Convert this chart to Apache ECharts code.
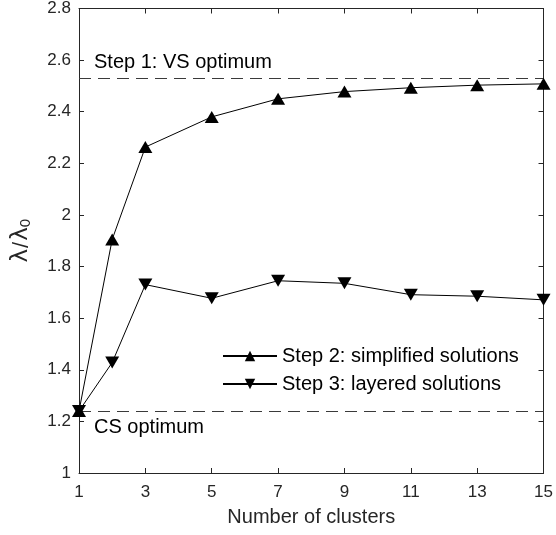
<!DOCTYPE html>
<html>
<head>
<meta charset="utf-8">
<script src="https://cdn.jsdelivr.net/npm/echarts@6/dist/echarts.min.js"></script>
<style>html,body{margin:0;padding:0;background:#fff}#c{width:556px;height:535px}</style>
</head>
<body>
<div id="c"></div>
<script>
var clusters = [1, 2, 3, 5, 7, 9, 11, 13, 15];
var step2 = [1.24, 1.905, 2.263, 2.38, 2.45, 2.478, 2.493, 2.503, 2.508];
var step3 = [1.24, 1.428, 1.73, 1.677, 1.745, 1.735, 1.691, 1.685, 1.671];
var vsOptimum = 2.53;
var csOptimum = 1.24;
var xTicks = [1, 3, 5, 7, 9, 11, 13, 15];
var yTicks = [1, 1.2, 1.4, 1.6, 1.8, 2, 2.2, 2.4, 2.6, 2.8];
var seriesNames = ['Step 2: simplified solutions', 'Step 3: layered solutions'];

function pairs(xs, ys) { return xs.map(function (x, i) { return [x, ys[i]]; }); }

var FONT = 'Liberation Sans, Arial, Helvetica, sans-serif';
var AX = '#262626';
var chart = echarts.init(document.getElementById('c'), null, {renderer: 'canvas'});

var commonX = {
  type: 'value', min: xTicks[0], max: xTicks[xTicks.length - 1], interval: 2,
  axisLine: {show: true, lineStyle: {color: AX, width: 1}},
  axisTick: {show: true, inside: true, length: 5, lineStyle: {color: AX}},
  splitLine: {show: false}
};
var commonY = {
  type: 'value', min: yTicks[0], max: yTicks[yTicks.length - 1], interval: 0.2,
  axisLine: {show: true, lineStyle: {color: AX, width: 1}},
  axisTick: {show: true, inside: true, length: 5, lineStyle: {color: AX}},
  splitLine: {show: false}
};

chart.setOption({
  animation: false,
  backgroundColor: '#fff',
  textStyle: {fontFamily: FONT},
  grid: {left: 79, right: 10, top: 6, bottom: 62, containLabel: false},
  xAxis: [
    Object.assign({}, commonX, {
      position: 'bottom',
      name: 'Number of clusters', nameLocation: 'middle', nameGap: 34,
      nameTextStyle: {fontSize: 20, color: AX, fontFamily: FONT},
      axisLabel: {show: true, margin: 11, fontSize: 17, color: AX, fontFamily: FONT}
    }),
    Object.assign({}, commonX, {position: 'top', axisLabel: {show: false}})
  ],
  yAxis: [
    Object.assign({}, commonY, {
      position: 'left',
      name: '{a|λ}{s|/}{a|λ}{b|0}', nameLocation: 'middle', nameGap: 46,
      nameTextStyle: {
        color: AX, fontFamily: FONT, fontSize: 22,
        rich: {
          a: {fontSize: 23, color: AX, fontFamily: 'DejaVu Sans, ' + FONT, verticalAlign: 'bottom', lineHeight: 30},
          s: {fontSize: 22, color: AX, fontFamily: FONT, verticalAlign: 'bottom', lineHeight: 30, padding: [0, 1, 0, 1]},
          b: {fontSize: 15, color: AX, fontFamily: FONT, verticalAlign: 'bottom', lineHeight: 20}
        }
      },
      axisLabel: {show: true, margin: 8, fontSize: 17, color: AX, fontFamily: FONT,
        formatter: function (v) { return String(Math.round(v * 10) / 10); }}
    }),
    Object.assign({}, commonY, {position: 'right', axisLabel: {show: false}})
  ],
  legend: {
    show: true, orient: 'vertical', left: 222, top: 346, itemGap: 8, padding: 0,
    itemWidth: 54, itemHeight: 13,
    data: seriesNames,
    textStyle: {fontSize: 20, color: '#000', fontFamily: FONT}
  },
  series: [
    {
      name: 'vs', type: 'line', data: [], symbol: 'none', silent: true,
      markLine: {
        silent: true, symbol: 'none',
        lineStyle: {type: [12, 7], color: '#3a3a3a', width: 1},
        label: {show: true, position: 'insideStartTop', distance: [15, 6],
          formatter: 'Step 1: VS optimum', fontSize: 20, color: '#000', fontFamily: FONT},
        data: [{yAxis: vsOptimum}]
      }
    },
    {
      name: 'cs', type: 'line', data: [], symbol: 'none', silent: true,
      markLine: {
        silent: true, symbol: 'none',
        lineStyle: {type: [12, 7], color: '#3a3a3a', width: 1},
        label: {show: true, position: 'insideStartBottom', distance: [15, 6],
          formatter: 'CS optimum', fontSize: 20, color: '#000', fontFamily: FONT},
        data: [{yAxis: csOptimum}]
      }
    },
    {
      name: seriesNames[0], type: 'line', data: pairs(clusters, step2),
      symbol: 'triangle', symbolSize: [14, 12],
      lineStyle: {color: '#000', width: 1}, itemStyle: {color: '#000'}, z: 5
    },
    {
      name: seriesNames[1], type: 'line', data: pairs(clusters, step3),
      symbol: 'triangle', symbolSize: [14, 12], symbolRotate: 180,
      lineStyle: {color: '#000', width: 1}, itemStyle: {color: '#000'}, z: 5
    }
  ]
});
</script>
</body>
</html>
